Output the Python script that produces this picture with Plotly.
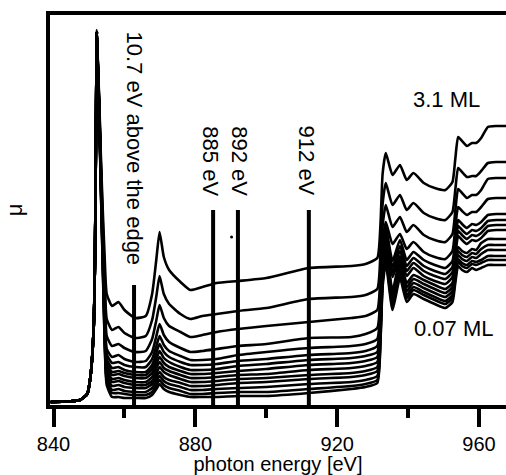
import plotly.graph_objects as go

# Photon energy grid shared by all spectra [eV]
energy = [839.2, 844.0, 847.5, 849.5, 850.4, 851.3, 851.7, 852.0, 852.2, 852.5,
          852.9, 853.4, 853.9, 854.4, 855.0, 856.5, 858.3, 860.0, 863.0, 866.0,
          867.8, 869.0, 869.9, 871.1, 872.6, 875.8, 878.6, 882.0, 886.0, 892.0,
          900.0, 912.0, 924.0, 928.0, 931.3, 932.2, 932.8, 933.7, 935.6, 937.7,
          939.6, 941.5, 944.4, 947.5, 950.5, 952.5, 953.3, 954.1, 955.2, 956.6,
          958.0, 959.2, 960.6, 962.5, 965.0, 968.0]

# Absorption spectra (arb. units), from 3.1 ML (top) down to 0.07 ML (bottom)
mu_3p1 = [0.02, 0.025, 0.04, 0.10, 0.27, 0.74, 1.50, 2.90, 3.74, 3.42,
          3.02, 2.42, 1.92, 1.48, 1.10, 0.98, 1.02, 0.94, 0.86, 0.88,
          1.10, 1.45, 1.72, 1.47, 1.34, 1.22, 1.14, 1.17, 1.21, 1.23,
          1.26, 1.36, 1.38, 1.40, 1.46, 1.80, 2.30, 2.51, 2.29, 2.39,
          2.24, 2.31, 2.21, 2.16, 2.14, 2.22, 2.45, 2.67, 2.63, 2.58,
          2.61, 2.61, 2.66, 2.77, 2.78, 2.78]
mu_02 = [0.02, 0.025, 0.04, 0.10, 0.27, 0.74, 1.50, 2.90, 3.72, 3.40,
         2.98, 2.35, 1.80, 1.30, 0.85, 0.74, 0.77, 0.71, 0.66, 0.68,
         0.84, 1.08, 1.28, 1.10, 1.00, 0.90, 0.85, 0.88, 0.90, 0.93,
         0.96, 1.05, 1.07, 1.09, 1.15, 1.52, 2.00, 2.21, 1.99, 2.09,
         1.94, 2.01, 1.91, 1.86, 1.84, 1.92, 2.14, 2.36, 2.32, 2.27,
         2.28, 2.28, 2.33, 2.41, 2.42, 2.42]
mu_03 = [0.02, 0.025, 0.04, 0.10, 0.27, 0.74, 1.50, 2.90, 3.72, 3.40,
         2.96, 2.30, 1.72, 1.18, 0.68, 0.58, 0.60, 0.56, 0.52, 0.53,
         0.65, 0.84, 0.99, 0.86, 0.78, 0.72, 0.67, 0.69, 0.72, 0.75,
         0.78, 0.82, 0.86, 0.88, 0.94, 1.31, 1.78, 1.99, 1.77, 1.87,
         1.72, 1.79, 1.69, 1.64, 1.62, 1.70, 1.93, 2.15, 2.11, 2.06,
         2.09, 2.09, 2.14, 2.25, 2.26, 2.26]
mu_04 = [0.02, 0.025, 0.04, 0.10, 0.27, 0.74, 1.50, 2.90, 3.72, 3.38,
         2.94, 2.27, 1.66, 1.08, 0.55, 0.47, 0.49, 0.45, 0.42, 0.43,
         0.52, 0.68, 0.80, 0.69, 0.62, 0.56, 0.52, 0.53, 0.55, 0.58,
         0.60, 0.66, 0.67, 0.70, 0.76, 1.13, 1.61, 1.82, 1.60, 1.70,
         1.55, 1.62, 1.52, 1.47, 1.45, 1.53, 1.76, 1.97, 1.93, 1.89,
         1.92, 1.92, 1.97, 2.05, 2.06, 2.06]
mu_05 = [0.02, 0.025, 0.04, 0.10, 0.27, 0.74, 1.50, 2.90, 3.72, 3.38,
         2.93, 2.25, 1.62, 1.02, 0.50, 0.41, 0.42, 0.39, 0.37, 0.37,
         0.45, 0.58, 0.68, 0.59, 0.53, 0.48, 0.44, 0.44, 0.45, 0.49,
         0.52, 0.56, 0.58, 0.60, 0.65, 1.04, 1.55, 1.77, 1.43, 1.64,
         1.44, 1.52, 1.44, 1.39, 1.36, 1.43, 1.64, 1.84, 1.80, 1.76,
         1.80, 1.79, 1.82, 1.89, 1.90, 1.90]
mu_06 = [0.02, 0.025, 0.04, 0.10, 0.27, 0.74, 1.50, 2.90, 3.72, 3.37,
         2.92, 2.23, 1.58, 0.96, 0.45, 0.36, 0.37, 0.34, 0.32, 0.32,
         0.39, 0.51, 0.60, 0.52, 0.47, 0.42, 0.39, 0.39, 0.40, 0.43,
         0.45, 0.49, 0.51, 0.53, 0.58, 0.98, 1.48, 1.71, 1.37, 1.58,
         1.38, 1.46, 1.38, 1.33, 1.30, 1.37, 1.58, 1.78, 1.74, 1.70,
         1.74, 1.73, 1.76, 1.83, 1.84, 1.84]
mu_07 = [0.02, 0.025, 0.04, 0.10, 0.27, 0.74, 1.50, 2.90, 3.72, 3.37,
         2.91, 2.21, 1.55, 0.92, 0.41, 0.32, 0.33, 0.31, 0.29, 0.29,
         0.35, 0.45, 0.53, 0.46, 0.42, 0.37, 0.34, 0.34, 0.35, 0.38,
         0.40, 0.44, 0.46, 0.48, 0.52, 0.92, 1.43, 1.66, 1.32, 1.53,
         1.33, 1.41, 1.33, 1.28, 1.25, 1.32, 1.53, 1.73, 1.69, 1.65,
         1.69, 1.68, 1.71, 1.78, 1.79, 1.79]
mu_08 = [0.02, 0.025, 0.04, 0.10, 0.27, 0.74, 1.50, 2.90, 3.72, 3.36,
         2.90, 2.19, 1.52, 0.88, 0.38, 0.29, 0.30, 0.28, 0.26, 0.26,
         0.31, 0.40, 0.47, 0.41, 0.37, 0.33, 0.30, 0.30, 0.31, 0.33,
         0.35, 0.39, 0.41, 0.43, 0.47, 0.87, 1.38, 1.61, 1.27, 1.48,
         1.28, 1.36, 1.28, 1.23, 1.20, 1.27, 1.48, 1.68, 1.64, 1.60,
         1.64, 1.63, 1.66, 1.73, 1.74, 1.74]
mu_09 = [0.02, 0.025, 0.04, 0.10, 0.27, 0.74, 1.50, 2.90, 3.72, 3.36,
         2.89, 2.17, 1.49, 0.84, 0.34, 0.25, 0.26, 0.24, 0.22, 0.22,
         0.27, 0.36, 0.42, 0.36, 0.33, 0.29, 0.26, 0.26, 0.27, 0.29,
         0.30, 0.34, 0.36, 0.38, 0.42, 0.83, 1.36, 1.60, 1.13, 1.45,
         1.21, 1.29, 1.24, 1.19, 1.15, 1.21, 1.40, 1.57, 1.53, 1.51,
         1.55, 1.54, 1.61, 1.65, 1.65, 1.65]
mu_10 = [0.02, 0.025, 0.04, 0.10, 0.27, 0.74, 1.50, 2.90, 3.72, 3.35,
         2.88, 2.15, 1.46, 0.80, 0.31, 0.22, 0.23, 0.21, 0.19, 0.19,
         0.23, 0.31, 0.37, 0.32, 0.29, 0.25, 0.22, 0.22, 0.23, 0.25,
         0.26, 0.29, 0.31, 0.33, 0.37, 0.79, 1.32, 1.56, 1.09, 1.41,
         1.17, 1.25, 1.20, 1.15, 1.11, 1.17, 1.36, 1.53, 1.49, 1.47,
         1.51, 1.50, 1.55, 1.59, 1.59, 1.59]
mu_11 = [0.02, 0.025, 0.04, 0.10, 0.27, 0.74, 1.50, 2.90, 3.72, 3.35,
         2.87, 2.13, 1.43, 0.76, 0.28, 0.18, 0.19, 0.17, 0.16, 0.16,
         0.20, 0.27, 0.32, 0.27, 0.24, 0.21, 0.18, 0.18, 0.19, 0.21,
         0.22, 0.25, 0.27, 0.29, 0.33, 0.75, 1.28, 1.52, 1.05, 1.37,
         1.13, 1.21, 1.16, 1.11, 1.07, 1.13, 1.32, 1.49, 1.45, 1.43,
         1.47, 1.46, 1.50, 1.54, 1.54, 1.54]
mu_12 = [0.02, 0.025, 0.04, 0.10, 0.27, 0.74, 1.50, 2.90, 3.72, 3.34,
         2.86, 2.11, 1.40, 0.72, 0.25, 0.14, 0.15, 0.13, 0.12, 0.12,
         0.16, 0.23, 0.28, 0.23, 0.20, 0.17, 0.14, 0.14, 0.15, 0.16,
         0.17, 0.20, 0.22, 0.24, 0.28, 0.70, 1.24, 1.48, 1.01, 1.33,
         1.09, 1.17, 1.12, 1.07, 1.03, 1.09, 1.28, 1.45, 1.41, 1.39,
         1.43, 1.42, 1.44, 1.48, 1.48, 1.48]
mu_13 = [0.02, 0.025, 0.04, 0.10, 0.27, 0.74, 1.50, 2.90, 3.72, 3.34,
         2.85, 2.09, 1.37, 0.68, 0.22, 0.11, 0.11, 0.10, 0.09, 0.09,
         0.12, 0.19, 0.24, 0.19, 0.16, 0.13, 0.10, 0.10, 0.11, 0.12,
         0.12, 0.15, 0.18, 0.20, 0.24, 0.66, 1.21, 1.45, 0.98, 1.30,
         1.06, 1.14, 1.09, 1.04, 1.00, 1.06, 1.25, 1.42, 1.38, 1.36,
         1.40, 1.39, 1.41, 1.44, 1.44, 1.44]
mu_0p07 = [0.02, 0.025, 0.04, 0.10, 0.27, 0.74, 1.50, 2.90, 3.72, 3.33,
           2.84, 2.07, 1.34, 0.64, 0.19, 0.07, 0.07, 0.06, 0.06, 0.06,
           0.09, 0.15, 0.20, 0.15, 0.12, 0.09, 0.07, 0.07, 0.07, 0.08,
           0.08, 0.11, 0.15, 0.17, 0.21, 0.63, 1.17, 1.41, 0.94, 1.26,
           1.02, 1.10, 1.05, 1.00, 0.96, 1.02, 1.21, 1.38, 1.34, 1.32,
           1.36, 1.34, 1.36, 1.39, 1.39, 1.39]

spectra = [mu_3p1, mu_02, mu_03, mu_04, mu_05, mu_06, mu_07,
           mu_08, mu_09, mu_10, mu_11, mu_12, mu_13, mu_0p07]

# Energies used for the photoelectron snapshots, with the marker heights
marker_energy = [862.7, 885.0, 892.0, 912.0]
marker_top = [1.19, 1.94, 1.94, 1.94]
marker_text = ["10.7 eV above the edge", "885 eV", "892 eV", "912 eV"]
marker_text_x = [862.7, 884.3, 892.5, 911.6]
marker_text_y = [2.555, 2.43, 2.43, 2.43]

coverage_text = ["3.1 ML", "0.07 ML"]
coverage_x = [950.7, 952.9]
coverage_y = [3.045, 0.76]

speck_x = [890.2]
speck_y = [1.67]

FONT = "Liberation Sans, Arial, sans-serif"

fig = go.Figure()

for mu in spectra:
    fig.add_trace(go.Scatter(
        x=energy, y=mu, mode="lines",
        line=dict(color="black", width=2.6, shape="spline", smoothing=0.5),
        hoverinfo="skip", showlegend=False,
    ))

for e, top in zip(marker_energy, marker_top):
    fig.add_trace(go.Scatter(
        x=[e, e], y=[-0.01, top], mode="lines",
        line=dict(color="black", width=4),
        hoverinfo="skip", showlegend=False,
    ))

fig.add_trace(go.Scatter(
    x=speck_x, y=speck_y, mode="markers",
    marker=dict(color="black", size=3), hoverinfo="skip", showlegend=False,
))

for txt, tx, ty in zip(marker_text, marker_text_x, marker_text_y):
    fig.add_annotation(x=tx, y=ty, xref="x", yref="y", text=txt,
                       textangle=90, showarrow=False,
                       xanchor="center", yanchor="middle",
                       font=dict(family=FONT, size=22, color="black"))

for txt, tx, ty in zip(coverage_text, coverage_x, coverage_y):
    fig.add_annotation(x=tx, y=ty, xref="x", yref="y", text=txt,
                       showarrow=False, xanchor="center", yanchor="middle",
                       font=dict(family=FONT, size=22, color="black"))

fig.update_layout(
    width=506, height=475,
    margin=dict(l=50, r=0, t=15, b=70),
    paper_bgcolor="white", plot_bgcolor="white",
    font=dict(family=FONT, size=20, color="black"),
    xaxis=dict(
        range=[839.0, 967.6],
        showline=True, linecolor="black", linewidth=4, mirror=True,
        showgrid=False, zeroline=False,
        tick0=840, dtick=40, ticks="outside", ticklen=18, tickwidth=4,
        tickcolor="black",
        minor=dict(ticks="outside", ticklen=9, tickwidth=4,
                   tickcolor="black", dtick=20, tick0=840, showgrid=False),
        tickfont=dict(family=FONT, size=20),
        title=dict(text="photon energy [eV]", standoff=6,
                   font=dict(family=FONT, size=20)),
    ),
    yaxis=dict(
        range=[-0.01, 3.89],
        showline=True, linecolor="black", linewidth=4,
        showgrid=False, zeroline=False,
        ticks="", showticklabels=False,
        title=dict(text="μ", standoff=18, font=dict(family=FONT, size=22)),
    ),
)

fig.write_html("out.html")
